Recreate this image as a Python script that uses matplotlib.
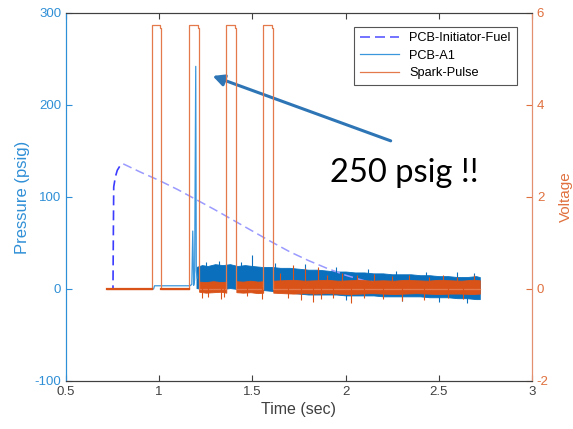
import numpy as np
import matplotlib.pyplot as plt
from matplotlib.lines import Line2D

plt.rcParams['font.family'] = ['Liberation Sans', 'DejaVu Sans']
plt.rcParams['axes.unicode_minus'] = False

# --- data ---
# PCB-Initiator-Fuel (psig), dashed: rise, then slow decay
fuel_rise_t = [0.718, 0.752, 0.754, 0.756, 0.765, 0.775, 0.79, 0.807]
fuel_rise_p = [0, 0, 60, 111, 122, 129, 134, 136]
fuel_fall_t = [0.807, 0.9, 1.0, 1.1, 1.2, 1.3, 1.4, 1.5, 1.6, 1.7, 1.8, 1.9, 2.0, 2.1, 2.3, 2.5, 2.72]
fuel_fall_p = [136, 127, 118, 108, 97, 86, 74.5, 63, 51.5, 40.5, 31, 22.5, 15, 9, 4, 2, 1]

# PCB-A1 (psig) before the noise starts
a1_t = [0.718, 0.97, 0.975, 1.165, 1.175, 1.18, 1.185, 1.19, 1.196, 1.199, 1.203]
a1_p = [0, 0, 3.5, 3.5, 5, 63, 4, 10, 242, 20, 12]

# PCB-A1 noise band envelope (psig)
band_t = [1.20, 1.23, 1.26, 1.30, 1.34, 1.38, 1.42, 1.46, 1.50, 1.55, 1.60, 1.65,
          1.70, 1.75, 1.80, 1.85, 1.90, 1.95, 2.00, 2.05, 2.10, 2.15, 2.20, 2.25,
          2.30, 2.35, 2.40, 2.45, 2.50, 2.55, 2.60, 2.65, 2.70, 2.72]
band_hi = [24, 26, 25, 27, 26, 27, 25, 26, 25, 24, 24, 23,
           23, 22, 21, 21, 20, 19, 19, 18, 18, 17, 17, 16,
           16, 16, 15, 15, 14, 14, 13, 13, 14, 13]
band_lo = [1, 0, 1, 0, 0, 1, 0, 0, -1, -1, -2, -3,
           -4, -5, -6, -6, -6, -6, -7, -7, -7, -7, -8, -8,
           -8, -8, -8, -9, -9, -9, -10, -10, -11, -11]
a1_spike_t = [1.25, 1.32, 1.44, 1.50, 1.62, 1.78, 1.95, 2.00, 2.12, 2.27, 2.30, 2.43, 2.50, 2.60, 2.65, 2.69]
a1_spike_p = [29, 30, 29, 37, 28, 27, 24, -12, 22, 20, -13, 19, -14, 18, -15, 17]

# Spark-Pulse (V)
spark_t = [0.718, 0.96, 0.96, 1.004, 1.004, 1.011, 1.011, 1.16, 1.16, 1.207, 1.207, 1.214, 1.214,
           1.36, 1.36, 1.407, 1.407, 1.414, 1.414, 1.558, 1.558, 1.605, 1.605, 1.612, 1.612, 2.72]
spark_v = [0, 0, 5.74, 5.74, 5.68, 5.68, 0, 0, 5.74, 5.74, 5.68, 5.68, 0,
           0, 5.74, 5.74, 5.68, 5.68, 0, 0, 5.74, 5.74, 5.68, 5.68, 0, 0]
# flat stretches before the noise
spark_base = [(0.718, 0.96), (1.011, 1.16)]

# Spark-Pulse noise envelope (V), pieces between pulses
spk_env_t = [1.214, 1.25, 1.29, 1.33, 1.36, 1.414, 1.45, 1.49, 1.53, 1.558,
             1.612, 1.66, 1.72, 1.78, 1.84, 1.90, 1.96, 2.02, 2.08, 2.14, 2.20,
             2.26, 2.32, 2.38, 2.44, 2.50, 2.56, 2.62, 2.68, 2.72]
spk_env_hi = [0.16, 0.15, 0.17, 0.15, 0.16, 0.17, 0.16, 0.18, 0.16, 0.17,
              0.18, 0.19, 0.2, 0.18, 0.19, 0.2, 0.18, 0.19, 0.2, 0.18, 0.19,
              0.18, 0.2, 0.19, 0.18, 0.2, 0.19, 0.18, 0.2, 0.19]
spk_env_lo = [-0.06, -0.08, -0.07, -0.06, -0.08, -0.07, -0.08, -0.07, -0.09, -0.08,
              -0.08, -0.09, -0.1, -0.09, -0.1, -0.09, -0.1, -0.11, -0.1, -0.09, -0.1,
              -0.11, -0.1, -0.09, -0.1, -0.11, -0.1, -0.1, -0.11, -0.1]
spk_pieces = [(1.214, 1.36), (1.414, 1.558), (1.612, 2.72)]
spk_spike_t = [1.23, 1.26, 1.33, 1.35, 1.47, 1.55, 1.65, 1.69, 1.72, 1.76, 1.78, 1.825,
               1.85, 1.87, 1.90, 1.93, 1.98, 2.027, 2.06, 2.10, 2.15, 2.20, 2.25, 2.30,
               2.34, 2.42, 2.45, 2.52, 2.55, 2.60, 2.63, 2.69]
spk_spike_v = [-0.2, -0.17, -0.22, -0.18, -0.15, -0.22, 0.35, -0.2, 0.52, -0.25, 0.46, -0.28,
               0.47, -0.22, 0.3, -0.2, 0.35, -0.3, 0.3, -0.2, 0.32, -0.22, 0.28, -0.26,
               0.3, -0.24, 0.27, 0.3, -0.2, 0.27, -0.22, 0.3]

blue = '#0a70bd'
blue_txt = '#2f8fd6'
orange = '#d95319'
orange_txt = '#e0703e'
grey = '#404040'

fig = plt.figure(figsize=(5.73, 4.29), dpi=100)
ax1 = fig.add_axes([0.1152, 0.1119, 0.8132, 0.8578])
ax2 = ax1.twinx()

# left axis: pressures
ax1.plot(fuel_rise_t, fuel_rise_p, color='#3c3cff', lw=1.2, ls=(0, (6, 3)))
ax1.plot(fuel_fall_t, fuel_fall_p, color='#9a9aff', lw=1.1, ls=(0, (6, 3)))
a1_line, = ax1.plot(a1_t, a1_p, color='#3a97dc', lw=0.9)
ax1.fill_between(band_t, band_lo, band_hi, color=blue, lw=0.6, edgecolor=blue)
ax1.vlines(a1_spike_t, 5, a1_spike_p, color=blue, lw=0.8)

# right axis: spark voltage
spark_line, = ax2.plot(spark_t, spark_v, color='#e47a4c', lw=0.9)
for t0, t1 in spark_base:
    ax2.plot([t0, t1], [0, 0], color=orange, lw=1.6)
env_t = np.array(spk_env_t)
for t0, t1 in spk_pieces:
    m = (env_t >= t0) & (env_t <= t1)
    ax2.fill_between(env_t[m], np.array(spk_env_lo)[m], np.array(spk_env_hi)[m],
                     color=orange, lw=0.6, edgecolor=orange)
ax2.vlines(spk_spike_t, 0.05, spk_spike_v, color=orange, lw=0.8)

ax1.set_xlim(0.5, 3)
ax1.set_ylim(-100, 300)
ax2.set_ylim(-2, 6)
ax1.set_xticks([0.5, 1, 1.5, 2, 2.5, 3])
ax1.set_xticklabels(['0.5', '1', '1.5', '2', '2.5', '3'])
ax1.set_yticks([-100, 0, 100, 200, 300])
ax2.set_yticks([-2, 0, 2, 4, 6])

ax1.tick_params(axis='x', direction='in', length=4, top=True, colors=grey, labelsize=9.5)
ax1.tick_params(axis='y', direction='in', length=4, colors=blue_txt, labelsize=9.5)
ax2.tick_params(axis='y', direction='in', length=4, colors=orange_txt, labelsize=9.5)

for ax in (ax1, ax2):
    for s in ax.spines.values():
        s.set_linewidth(0.8)
    ax.spines['top'].set_color(grey)
    ax.spines['bottom'].set_color(grey)
    ax.spines['left'].set_color(blue_txt)
    ax.spines['right'].set_color('#e49070')

ax1.set_xlabel('Time (sec)', fontsize=11.5, color=grey, labelpad=3)
ax1.set_ylabel('Pressure (psig)', fontsize=12, color=blue_txt, labelpad=3)
ax2.set_ylabel('Voltage', fontsize=11, color=orange_txt, rotation=90, va='center', ha='center')
ax2.yaxis.set_label_coords(1.073, 0.5)

fuel_proxy = Line2D([], [], color='#5a5aff', lw=1.2, ls=(0, (6, 3)))
leg = ax2.legend([fuel_proxy, a1_line, spark_line], ['PCB-Initiator-Fuel', 'PCB-A1', 'Spark-Pulse'],
                 loc='upper right', bbox_to_anchor=(0.967, 0.963), borderaxespad=0,
                 fontsize=9.2, handlelength=3.1, labelspacing=0.42, borderpad=0.45,
                 fancybox=False, framealpha=1, edgecolor='#555555')
leg.get_frame().set_linewidth(0.8)

# annotation added on top of the plot
ax1.annotate('', xy=(1.2725, 232.6), xytext=(2.256, 160),
             arrowprops=dict(arrowstyle='-|>', color='#2e75b6', lw=2.2, mutation_scale=17),
             annotation_clip=False)
ax1.text(1.916, 116.6, '250 psig !!', fontsize=23.5, family='Lato', ha='left', va='baseline')

fig.savefig('out.png', dpi=100)
